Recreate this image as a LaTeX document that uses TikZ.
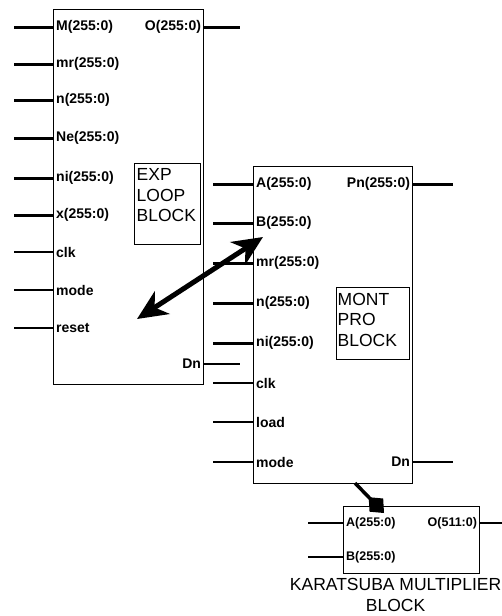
\documentclass[tikz,border=0pt]{standalone}
\usepackage{fontspec}
\setmainfont{Liberation Sans}
\usetikzlibrary{arrows.meta}

\begin{document}
\begin{tikzpicture}[x=1pt, y=-1pt]
        \tikzset{
            block/.style={draw=black, line width=1.2pt, anchor=north west, inner sep=0pt},
            blocktag/.style={draw=black, line width=0.9pt, anchor=north west, inner sep=0pt},
            tagtext/.style={anchor=north west, inner sep=0pt, align=left, font=\fontsize{17.5}{20.5}\selectfont},
            portlabel/.style={font=\fontsize{14}{16}\selectfont\bfseries, inner sep=3pt},
            smallport/.style={font=\fontsize{12.5}{14}\selectfont\bfseries, inner sep=3pt},
            bus/.style={draw=black, line width=3pt},
            wire/.style={draw=black, line width=1.2pt},
            bigarrow/.style={line width=5pt, {Stealth[length=30pt, width=27pt, inset=9pt]}-{Stealth[length=30pt, width=27pt, inset=9pt]}},
            link/.style={line width=3.5pt, -{Diamond[length=22pt, width=19pt]}}
        }
        \useasboundingbox (0,0) rectangle (501,616);

        % exp loop block
        \node[block, minimum width=150pt, minimum height=375pt] (exp) at (53,9) {};
        \foreach \lab/\y/\kind [count=\i] in {M(255:0)/27/bus, mr(255:0)/64/bus, n(255:0)/100/bus,
                Ne(255:0)/138/bus, ni(255:0)/178/bus, x(255:0)/215/bus, clk/252/wire, mode/290/wire, reset/328/wire} {
            \coordinate (expin\i) at (14,\y);
            \node[portlabel, anchor=west] (explab\i) at (expin\i -| exp.west) {\lab};
            \draw[\kind] (expin\i) -- (explab\i.west);
        }
        \foreach \lab/\y/\kind [count=\i] in {O(255:0)/27/bus, Dn/364/wire} {
            \coordinate (expout\i) at (240,\y);
            \node[portlabel, anchor=east] (expolab\i) at (expout\i -| exp.east) {\lab};
            \draw[\kind] (expolab\i.east) -- (expout\i);
        }
        \node[blocktag, minimum width=66pt, minimum height=81pt] (exptag) at (134,163) {};
        \node[tagtext] (exptext) at ([shift={(2.5,5.7)}]exptag.north west) {EXP\\LOOP\\BLOCK};

        % mont pro block
        \node[block, minimum width=159pt, minimum height=317pt] (mont) at (253,166) {};
        \foreach \lab/\y/\kind [count=\i] in {A(255:0)/184/bus, B(255:0)/223/bus, mr(255:0)/263/bus, n(255:0)/303/bus,
                ni(255:0)/343/bus, clk/383/wire, load/422/wire, mode/462/wire} {
            \coordinate (montin\i) at (213,\y);
            \node[portlabel, anchor=west] (montlab\i) at (montin\i -| mont.west) {\lab};
            \draw[\kind] (montin\i) -- (montlab\i.west);
        }
        \foreach \lab/\y/\kind [count=\i] in {Pn(255:0)/184/bus, Dn/462/wire} {
            \coordinate (montout\i) at (453,\y);
            \node[portlabel, anchor=east] (montolab\i) at (montout\i -| mont.east) {\lab};
            \draw[\kind] (montolab\i.east) -- (montout\i);
        }
        \node[blocktag, minimum width=73pt, minimum height=72pt] (monttag) at (336,287) {};
        \node[tagtext] (monttext) at ([shift={(1.5,6)}]monttag.north west) {MONT\\PRO\\BLOCK};

        % karatsuba multiplier
        \node[block, minimum width=136pt, minimum height=67pt] (kar) at (343,506) {};
        \foreach \lab/\y [count=\i] in {A(255:0)/523, B(255:0)/557} {
            \coordinate (karin\i) at (308,\y);
            \node[smallport, anchor=west] (karlab\i) at (karin\i -| kar.west) {\lab};
            \draw[wire] (karin\i) -- (karlab\i.west);
        }
        \coordinate (karout) at (505,523);
        \node[smallport, anchor=east] (karolab) at (karout -| kar.east) {O(511:0)};
        \draw[wire] (karolab.east) -- (karout);
        \node[tagtext, anchor=north, align=center, font=\fontsize{17.5}{21}\selectfont] (karcap)
            at ([shift={(-16,4)}]kar.south) {KARATSUBA MULTIPLIER\\BLOCK};

        % links
        \coordinate (linkfrom) at (355,483);
        \coordinate (linkto) at (384,513);
        \draw[link] (linkfrom) -- (linkto);
        \coordinate (arrowL) at (137,319);
        \coordinate (arrowR) at (263,237);
        \draw[bigarrow] (arrowL) -- (arrowR);
\end{tikzpicture}
\end{document}
